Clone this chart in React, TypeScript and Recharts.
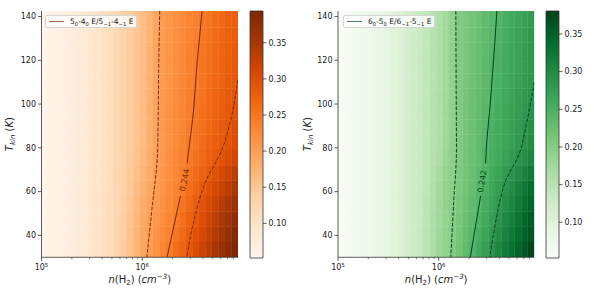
import React from 'react';
import {
  ComposedChart,
  XAxis,
  YAxis,
  Line,
  Scatter,
  ReferenceArea,
  Legend,
  Label
} from 'recharts';

const FONT = '"DejaVu Sans", sans-serif';
const INK = '#222';
const SPINE = '#333';

// grid cell edges: n(H2) in cm^-3 and Tkin in K
const densityEdges = [
  1.0e5, 1.16e5, 1.35e5, 1.57e5, 1.82e5, 2.11e5, 2.45e5, 2.85e5, 3.31e5, 3.85e5,
  4.47e5, 5.19e5, 6.03e5, 7.0e5, 8.13e5, 9.44e5, 1.1e6, 1.27e6, 1.48e6, 1.72e6,
  2.0e6, 2.32e6, 2.69e6, 3.13e6, 3.63e6, 4.22e6, 4.9e6, 5.69e6, 6.61e6, 7.67e6, 8.91e6
];
const tkinEdges = [30, 37, 44, 51, 58, 65, 72, 79, 86, 93, 100, 107, 114, 121, 128, 135, 142.5];

const densityTicks = [1e5, 2e5, 3e5, 4e5, 5e5, 6e5, 7e5, 8e5, 9e5, 1e6, 2e6, 3e6, 4e6, 5e6, 6e6, 7e6, 8e6];
const tkinTicks = [40, 60, 80, 100, 120, 140];
const cbarTicks = [0.1, 0.15, 0.2, 0.25, 0.3, 0.35];

// line ratio 5_0-4_0 E / 5_-1-4_-1 E, one row per Tkin cell, low to high Tkin
const ratio54 = [
  [0.053, 0.057, 0.061, 0.066, 0.071, 0.077, 0.083, 0.090, 0.097, 0.105, 0.115, 0.127, 0.140, 0.156, 0.173, 0.190, 0.203, 0.217, 0.230, 0.244, 0.259, 0.274, 0.288, 0.303, 0.318, 0.333, 0.348, 0.364, 0.379, 0.394],
  [0.053, 0.057, 0.061, 0.066, 0.071, 0.077, 0.083, 0.090, 0.097, 0.105, 0.115, 0.126, 0.138, 0.154, 0.171, 0.188, 0.201, 0.213, 0.226, 0.238, 0.252, 0.266, 0.280, 0.295, 0.310, 0.325, 0.340, 0.355, 0.369, 0.387],
  [0.053, 0.057, 0.061, 0.066, 0.071, 0.077, 0.083, 0.090, 0.097, 0.105, 0.114, 0.125, 0.137, 0.151, 0.168, 0.186, 0.198, 0.210, 0.221, 0.233, 0.245, 0.259, 0.273, 0.288, 0.302, 0.316, 0.331, 0.346, 0.360, 0.376],
  [0.053, 0.057, 0.061, 0.066, 0.071, 0.077, 0.083, 0.090, 0.097, 0.105, 0.114, 0.124, 0.135, 0.149, 0.165, 0.182, 0.195, 0.207, 0.217, 0.228, 0.239, 0.252, 0.265, 0.280, 0.293, 0.307, 0.321, 0.335, 0.348, 0.363],
  [0.053, 0.057, 0.061, 0.066, 0.071, 0.077, 0.083, 0.090, 0.097, 0.105, 0.113, 0.123, 0.134, 0.146, 0.160, 0.175, 0.190, 0.204, 0.214, 0.224, 0.234, 0.245, 0.258, 0.271, 0.283, 0.296, 0.309, 0.322, 0.334, 0.348],
  [0.053, 0.057, 0.061, 0.066, 0.071, 0.077, 0.083, 0.090, 0.097, 0.105, 0.113, 0.123, 0.133, 0.144, 0.156, 0.170, 0.185, 0.200, 0.211, 0.221, 0.231, 0.240, 0.252, 0.263, 0.274, 0.285, 0.297, 0.308, 0.319, 0.331],
  [0.053, 0.057, 0.061, 0.066, 0.071, 0.077, 0.083, 0.090, 0.097, 0.105, 0.113, 0.122, 0.131, 0.142, 0.153, 0.165, 0.181, 0.197, 0.208, 0.218, 0.228, 0.237, 0.247, 0.256, 0.266, 0.275, 0.284, 0.294, 0.303, 0.313],
  [0.053, 0.057, 0.061, 0.066, 0.071, 0.077, 0.083, 0.090, 0.097, 0.105, 0.113, 0.122, 0.131, 0.141, 0.151, 0.163, 0.179, 0.195, 0.207, 0.217, 0.226, 0.235, 0.244, 0.252, 0.261, 0.269, 0.277, 0.286, 0.294, 0.302],
  [0.053, 0.057, 0.061, 0.066, 0.071, 0.077, 0.083, 0.090, 0.097, 0.105, 0.113, 0.122, 0.131, 0.141, 0.151, 0.162, 0.178, 0.193, 0.207, 0.216, 0.225, 0.234, 0.243, 0.251, 0.259, 0.267, 0.274, 0.283, 0.291, 0.299],
  [0.053, 0.057, 0.061, 0.066, 0.071, 0.077, 0.083, 0.090, 0.097, 0.105, 0.113, 0.122, 0.131, 0.141, 0.151, 0.162, 0.178, 0.193, 0.207, 0.216, 0.224, 0.233, 0.241, 0.249, 0.257, 0.264, 0.272, 0.279, 0.287, 0.295],
  [0.053, 0.057, 0.061, 0.066, 0.071, 0.077, 0.083, 0.090, 0.097, 0.105, 0.113, 0.122, 0.131, 0.141, 0.151, 0.161, 0.177, 0.192, 0.206, 0.214, 0.223, 0.231, 0.240, 0.248, 0.254, 0.262, 0.269, 0.276, 0.283, 0.290],
  [0.053, 0.057, 0.061, 0.066, 0.071, 0.077, 0.083, 0.090, 0.097, 0.105, 0.113, 0.122, 0.131, 0.141, 0.151, 0.161, 0.176, 0.191, 0.205, 0.214, 0.222, 0.230, 0.238, 0.246, 0.253, 0.260, 0.267, 0.274, 0.281, 0.287],
  [0.053, 0.057, 0.061, 0.066, 0.071, 0.077, 0.083, 0.090, 0.097, 0.105, 0.113, 0.122, 0.131, 0.141, 0.151, 0.160, 0.175, 0.190, 0.204, 0.213, 0.221, 0.229, 0.237, 0.244, 0.252, 0.259, 0.266, 0.273, 0.280, 0.286],
  [0.053, 0.057, 0.061, 0.066, 0.071, 0.077, 0.083, 0.090, 0.097, 0.105, 0.113, 0.122, 0.131, 0.141, 0.151, 0.160, 0.175, 0.190, 0.204, 0.212, 0.220, 0.228, 0.235, 0.242, 0.250, 0.257, 0.264, 0.271, 0.278, 0.284],
  [0.053, 0.057, 0.061, 0.066, 0.071, 0.077, 0.083, 0.090, 0.097, 0.105, 0.113, 0.122, 0.131, 0.141, 0.151, 0.160, 0.174, 0.189, 0.203, 0.211, 0.219, 0.226, 0.234, 0.241, 0.249, 0.255, 0.262, 0.268, 0.275, 0.281],
  [0.053, 0.057, 0.061, 0.066, 0.071, 0.077, 0.083, 0.090, 0.097, 0.105, 0.113, 0.122, 0.131, 0.141, 0.151, 0.160, 0.174, 0.189, 0.203, 0.211, 0.218, 0.225, 0.232, 0.239, 0.247, 0.253, 0.260, 0.266, 0.273, 0.279]
];

// line ratio 6_0-5_0 E / 6_-1-5_-1 E
const ratio65 = [
  [0.053, 0.057, 0.061, 0.066, 0.071, 0.077, 0.083, 0.090, 0.097, 0.105, 0.113, 0.122, 0.133, 0.147, 0.162, 0.179, 0.189, 0.203, 0.217, 0.231, 0.245, 0.260, 0.274, 0.288, 0.304, 0.318, 0.332, 0.346, 0.360, 0.378],
  [0.053, 0.057, 0.061, 0.066, 0.071, 0.077, 0.083, 0.090, 0.097, 0.105, 0.113, 0.122, 0.133, 0.146, 0.161, 0.178, 0.189, 0.201, 0.214, 0.226, 0.239, 0.252, 0.266, 0.280, 0.295, 0.309, 0.322, 0.336, 0.350, 0.364],
  [0.053, 0.057, 0.061, 0.066, 0.071, 0.077, 0.083, 0.090, 0.097, 0.105, 0.113, 0.122, 0.132, 0.145, 0.160, 0.177, 0.188, 0.200, 0.211, 0.223, 0.234, 0.246, 0.260, 0.273, 0.288, 0.302, 0.315, 0.329, 0.343, 0.357],
  [0.053, 0.057, 0.061, 0.066, 0.071, 0.077, 0.083, 0.090, 0.097, 0.105, 0.113, 0.122, 0.132, 0.144, 0.158, 0.176, 0.188, 0.199, 0.209, 0.220, 0.231, 0.241, 0.254, 0.267, 0.281, 0.294, 0.307, 0.320, 0.333, 0.347],
  [0.053, 0.057, 0.061, 0.066, 0.071, 0.077, 0.083, 0.090, 0.097, 0.105, 0.113, 0.122, 0.131, 0.143, 0.156, 0.175, 0.187, 0.198, 0.207, 0.217, 0.228, 0.238, 0.249, 0.261, 0.274, 0.286, 0.298, 0.310, 0.323, 0.335],
  [0.053, 0.057, 0.061, 0.066, 0.071, 0.077, 0.083, 0.090, 0.097, 0.105, 0.113, 0.122, 0.131, 0.142, 0.154, 0.171, 0.185, 0.196, 0.206, 0.215, 0.225, 0.235, 0.245, 0.256, 0.267, 0.278, 0.289, 0.299, 0.310, 0.321],
  [0.053, 0.057, 0.061, 0.066, 0.071, 0.077, 0.083, 0.090, 0.097, 0.105, 0.113, 0.122, 0.131, 0.141, 0.152, 0.165, 0.180, 0.193, 0.205, 0.214, 0.223, 0.232, 0.242, 0.251, 0.260, 0.269, 0.278, 0.287, 0.296, 0.305],
  [0.053, 0.057, 0.061, 0.066, 0.071, 0.077, 0.083, 0.090, 0.097, 0.105, 0.113, 0.122, 0.131, 0.141, 0.151, 0.162, 0.177, 0.192, 0.204, 0.213, 0.222, 0.231, 0.241, 0.249, 0.257, 0.264, 0.272, 0.280, 0.288, 0.296],
  [0.053, 0.057, 0.061, 0.066, 0.071, 0.077, 0.083, 0.090, 0.097, 0.105, 0.113, 0.122, 0.131, 0.141, 0.151, 0.161, 0.176, 0.191, 0.204, 0.213, 0.222, 0.231, 0.240, 0.248, 0.256, 0.263, 0.271, 0.278, 0.286, 0.293],
  [0.053, 0.057, 0.061, 0.066, 0.071, 0.077, 0.083, 0.090, 0.097, 0.105, 0.113, 0.122, 0.131, 0.141, 0.151, 0.161, 0.176, 0.191, 0.204, 0.213, 0.222, 0.230, 0.238, 0.246, 0.254, 0.261, 0.269, 0.276, 0.284, 0.290],
  [0.053, 0.057, 0.061, 0.066, 0.071, 0.077, 0.083, 0.090, 0.097, 0.105, 0.113, 0.122, 0.131, 0.141, 0.151, 0.160, 0.175, 0.190, 0.204, 0.212, 0.221, 0.229, 0.237, 0.245, 0.252, 0.259, 0.266, 0.273, 0.280, 0.287],
  [0.053, 0.057, 0.061, 0.066, 0.071, 0.077, 0.083, 0.090, 0.097, 0.105, 0.113, 0.122, 0.131, 0.141, 0.151, 0.160, 0.175, 0.190, 0.204, 0.212, 0.220, 0.228, 0.236, 0.244, 0.250, 0.257, 0.264, 0.271, 0.278, 0.284],
  [0.053, 0.057, 0.061, 0.066, 0.071, 0.077, 0.083, 0.090, 0.097, 0.105, 0.113, 0.122, 0.131, 0.141, 0.151, 0.160, 0.175, 0.190, 0.204, 0.211, 0.219, 0.227, 0.235, 0.243, 0.249, 0.256, 0.262, 0.269, 0.275, 0.282],
  [0.053, 0.057, 0.061, 0.066, 0.071, 0.077, 0.083, 0.090, 0.097, 0.105, 0.113, 0.122, 0.131, 0.141, 0.151, 0.160, 0.175, 0.190, 0.204, 0.211, 0.219, 0.226, 0.233, 0.241, 0.248, 0.254, 0.261, 0.267, 0.274, 0.280],
  [0.053, 0.057, 0.061, 0.066, 0.071, 0.077, 0.083, 0.090, 0.097, 0.105, 0.113, 0.122, 0.131, 0.141, 0.151, 0.160, 0.175, 0.190, 0.203, 0.210, 0.218, 0.225, 0.232, 0.240, 0.247, 0.253, 0.260, 0.266, 0.273, 0.279],
  [0.053, 0.057, 0.061, 0.066, 0.071, 0.077, 0.083, 0.090, 0.097, 0.105, 0.113, 0.122, 0.131, 0.141, 0.151, 0.160, 0.175, 0.190, 0.203, 0.210, 0.217, 0.223, 0.230, 0.238, 0.245, 0.251, 0.258, 0.264, 0.271, 0.277]
];

// contours (n, Tkin), top to bottom: lower dashed, best-fit solid (split round its label), upper dashed
const contour54Low = [{ n: 1.49e6, T: 142.5 }, { n: 1.46e6, T: 121 }, { n: 1.42e6, T: 79 }, { n: 1.24e6, T: 51 }, { n: 1.11e6, T: 30 }];
const contour54MidB = [{ n: 3.93e6, T: 142.5 }, { n: 3.52e6, T: 120 }, { n: 3.16e6, T: 93 }, { n: 2.89e6, T: 79 }, { n: 2.79e6, T: 73 }];
const contour54MidA = [{ n: 2.39e6, T: 58 }, { n: 1.76e6, T: 30 }];
const contour54High = [{ n: 8.91e6, T: 111 }, { n: 8.69e6, T: 108 }, { n: 7.57e6, T: 93 }, { n: 6.15e6, T: 79 }, { n: 4.2e6, T: 64 }, { n: 3.34e6, T: 49 }, { n: 2.76e6, T: 30 }];
const label54 = [{ n: 2.64e6, T: 65.3, text: '0.244' }];

const contour65Low = [{ n: 1.48e6, T: 142.5 }, { n: 1.49e6, T: 110 }, { n: 1.5e6, T: 79 }, { n: 1.41e6, T: 55 }, { n: 1.32e6, T: 30 }];
const contour65MidB = [{ n: 3.79e6, T: 142.5 }, { n: 3.28e6, T: 102 }, { n: 2.97e6, T: 79 }, { n: 2.93e6, T: 73 }];
const contour65MidA = [{ n: 2.61e6, T: 58 }, { n: 2.06e6, T: 30 }];
const contour65High = [{ n: 8.91e6, T: 110 }, { n: 7.15e6, T: 87 }, { n: 6.52e6, T: 79 }, { n: 4.55e6, T: 64 }, { n: 3.79e6, T: 49 }, { n: 3.21e6, T: 30 }];
const label65 = [{ n: 2.71e6, T: 64.7, text: '0.242' }];

const ORANGES = ['#fff5eb', '#fee6ce', '#fdd0a2', '#fdae6b', '#fd8d3c', '#f16913', '#d94801', '#a63603', '#7f2704'];
const GREENS = ['#f7fcf5', '#e5f5e0', '#c7e9c0', '#a1d99b', '#74c476', '#41ab5d', '#238b45', '#006d2c', '#00441b'];

const hexRgb = (h: string) => [1, 3, 5].map(i => parseInt(h.slice(i, i + 2), 16));

function colorAt(stops: string[], t: number) {
  const c = Math.max(0, Math.min(1, t)) * (stops.length - 1);
  const i = Math.min(Math.floor(c), stops.length - 2);
  const f = c - i;
  const a = hexRgb(stops[i]);
  const b = hexRgb(stops[i + 1]);
  const m = a.map((v, k) => Math.round(v + (b[k] - v) * f));
  return `rgb(${m[0]},${m[1]},${m[2]})`;
}

const LogTick = (props: any) => {
  const { x, y, payload } = props;
  const e = Math.round(Math.log10(payload.value));
  const major = Math.abs(payload.value / Math.pow(10, e) - 1) < 1e-6;
  return (
    <g>
      <line x1={x} x2={x} y1={y} y2={y + (major ? 3.5 : 2)} stroke={SPINE} strokeWidth={major ? 0.8 : 0.6} />
      {major && (
        <text x={x} y={y + 13} textAnchor="middle" fontSize={8} fill={INK} fontFamily={FONT}>
          10<tspan dy={-3.5} fontSize={5.6}>{e}</tspan>
        </text>
      )}
    </g>
  );
};

interface Pt { n: number; T: number }

interface PanelProps {
  left: number;
  grid: number[][];
  stops: string[];
  vmin: number;
  vmax: number;
  dark: string;
  legendColor: string;
  legendText: React.ReactNode;
  low: Pt[];
  midA: Pt[];
  midB: Pt[];
  high: Pt[];
  label: { n: number; T: number; text: string }[];
  labelAngle: number;
  yAxisWidth: number;
  marginRight: number;
  cbarLeft: number;
  cbarWidth: number;
  cbarAxisWidth: number;
  gradId: string;
}

const Panel: React.FC<PanelProps> = (p) => {
  const dashed = '3.7 1.6';
  const labelShape = (s: any) => (
    <text
      x={s.cx}
      y={s.cy}
      transform={`rotate(${p.labelAngle} ${s.cx} ${s.cy})`}
      textAnchor="middle"
      dominantBaseline="central"
      fontSize={8}
      fill={p.dark}
      fontFamily={FONT}
    >
      {s.payload.text}
    </text>
  );
  const xDomain = [densityEdges[0], densityEdges[densityEdges.length - 1]];
  const yDomain = [tkinEdges[0], tkinEdges[tkinEdges.length - 1]];
  const contours: [Pt[], boolean][] = [[p.low, true], [p.midB, false], [p.midA, false], [p.high, true]];

  return (
    <>
      <div style={{ position: 'absolute', left: p.left, top: 0 }}>
        <ComposedChart width={245} height={299} margin={{ top: 11, right: p.marginRight, bottom: 11.7, left: 0 }}>
          {p.grid.map((row, j) =>
            row.map((v, i) => {
              const c = colorAt(p.stops, (v - p.vmin) / (p.vmax - p.vmin));
              return (
                <ReferenceArea
                  key={`c${j}-${i}`}
                  x1={densityEdges[i]}
                  x2={densityEdges[i + 1]}
                  y1={tkinEdges[j]}
                  y2={tkinEdges[j + 1]}
                  fill={c}
                  fillOpacity={1}
                  stroke={c}
                  strokeWidth={0.4}
                  ifOverflow="hidden"
                />
              );
            })
          )}
          <XAxis
            dataKey="n"
            type="number"
            scale="log"
            domain={xDomain}
            allowDataOverflow
            ticks={densityTicks}
            interval={0}
            height={30}
            tickSize={0}
            tickMargin={0}
            tickLine={false}
            tick={<LogTick />}
            axisLine={{ stroke: SPINE, strokeWidth: 0.8 }}
          >
            <Label
              content={(lp: any) => {
                const vb = lp.viewBox;
                return (
                  <text x={vb.x + vb.width / 2} y={vb.y + 26} textAnchor="middle" fontSize={10} fill={INK} fontFamily={FONT}>
                    <tspan fontStyle="italic">n</tspan>(H<tspan dy={2} fontSize={7}>2</tspan>
                    <tspan dy={-2}>) (</tspan>
                    <tspan fontStyle="italic">cm</tspan>
                    <tspan dy={-4} fontSize={7} fontStyle="italic">−3</tspan>
                    <tspan dy={4}>)</tspan>
                  </text>
                );
              }}
            />
          </XAxis>
          <XAxis
            xAxisId="top"
            orientation="top"
            type="number"
            scale="log"
            domain={xDomain}
            allowDataOverflow
            height={0}
            tick={false}
            tickLine={false}
            axisLine={{ stroke: SPINE, strokeWidth: 0.8 }}
          />
          <YAxis
            dataKey="T"
            type="number"
            domain={yDomain}
            allowDataOverflow
            ticks={tkinTicks}
            interval={0}
            width={p.yAxisWidth}
            tickSize={3.5}
            tickMargin={2}
            tick={{ fontSize: 8, fill: INK, fontFamily: FONT }}
            tickLine={{ stroke: SPINE, strokeWidth: 0.8 }}
            axisLine={{ stroke: SPINE, strokeWidth: 0.8 }}
          >
            <Label
              content={(lp: any) => {
                const vb = lp.viewBox;
                const x = vb.x + 13.5;
                const y = vb.y + vb.height / 2;
                return (
                  <text x={x} y={y} transform={`rotate(-90 ${x} ${y})`} textAnchor="middle" fontSize={10} fill={INK} fontFamily={FONT}>
                    <tspan fontStyle="italic">T</tspan>
                    <tspan dy={2} fontSize={7} fontStyle="italic">kin</tspan>
                    <tspan dy={-2}> (</tspan>
                    <tspan fontStyle="italic">K</tspan>)
                  </text>
                );
              }}
            />
          </YAxis>
          <YAxis
            yAxisId="right"
            orientation="right"
            type="number"
            domain={yDomain}
            allowDataOverflow
            width={0}
            tick={false}
            tickLine={false}
            axisLine={{ stroke: SPINE, strokeWidth: 0.8 }}
          />
          {contours.map(([pts, isDashed], k) => (
            <Line
              key={`contour-${k}`}
              data={pts}
              dataKey="T"
              type="monotoneY"
              stroke={p.dark}
              strokeWidth={1}
              strokeDasharray={isDashed ? dashed : undefined}
              dot={false}
              isAnimationActive={false}
            />
          ))}
          <Scatter data={p.label} dataKey="T" shape={labelShape} isAnimationActive={false} />
          <Legend
            layout="vertical"
            align="center"
            verticalAlign="middle"
            wrapperStyle={{ left: 45, top: 15, width: 'auto', height: 'auto' }}
            content={() => (
              <div
                style={{
                  display: 'flex',
                  alignItems: 'center',
                  height: 13,
                  boxSizing: 'border-box',
                  padding: '0 3px',
                  background: 'rgba(255,255,255,0.8)',
                  border: '0.8px solid #d6d6d6',
                  borderRadius: 2,
                  fontFamily: FONT,
                  fontSize: 7.5,
                  color: INK,
                  whiteSpace: 'nowrap',
                  lineHeight: '13px'
                }}
              >
                <span style={{ display: 'inline-block', width: 15, borderTop: `1.8px solid ${p.legendColor}`, marginRight: 6 }} />
                <span>{p.legendText}</span>
              </div>
            )}
          />
        </ComposedChart>
      </div>
      <div style={{ position: 'absolute', left: p.cbarLeft, top: 0 }}>
        <ComposedChart
          width={p.cbarWidth}
          height={299}
          margin={{ top: 11, right: 0, bottom: 41, left: 5 }}
          data={[{ x: 0 }, { x: 1 }]}
        >
          <defs>
            <linearGradient id={p.gradId} x1="0" y1="1" x2="0" y2="0">
              {p.stops.map((c, i) => (
                <stop key={c} offset={i / (p.stops.length - 1)} stopColor={c} />
              ))}
            </linearGradient>
          </defs>
          <XAxis dataKey="x" type="number" domain={[0, 1]} hide />
          <YAxis
            orientation="right"
            type="number"
            domain={[p.vmin, p.vmax]}
            allowDataOverflow
            ticks={cbarTicks}
            interval={0}
            width={p.cbarAxisWidth}
            tickSize={3.5}
            tickMargin={2}
            tickFormatter={(v: number) => v.toFixed(2)}
            tick={{ fontSize: 8, fill: INK, fontFamily: FONT }}
            tickLine={{ stroke: SPINE, strokeWidth: 0.8 }}
            axisLine={false}
          />
          <ReferenceArea
            x1={0}
            x2={1}
            y1={p.vmin}
            y2={p.vmax}
            fill={`url(#${p.gradId})`}
            fillOpacity={1}
            stroke={SPINE}
            strokeWidth={0.8}
          />
        </ComposedChart>
      </div>
    </>
  );
};

const sub = (t: string) => <sub style={{ fontSize: '70%', verticalAlign: '-1.5px', lineHeight: 0 }}>{t}</sub>;

export default function App() {
  return (
    <div style={{ position: 'absolute', left: 0, top: 0, width: 598, height: 299, background: '#fff' }}>
      <Panel
        left={0}
        grid={ratio54}
        stops={ORANGES}
        vmin={0.052}
        vmax={0.394}
        dark="#7f2704"
        legendColor="rgba(127,39,4,0.7)"
        legendText={<>5{sub('0')}-4{sub('0')} E/5{sub('−1')}-4{sub('−1')} E</>}
        low={contour54Low}
        midA={contour54MidA}
        midB={contour54MidB}
        high={contour54High}
        label={label54}
        labelAngle={-79}
        yAxisWidth={41.5}
        marginRight={7}
        cbarLeft={245}
        cbarWidth={55}
        cbarAxisWidth={37}
        gradId="cbOranges"
      />
      <Panel
        left={298}
        grid={ratio65}
        stops={GREENS}
        vmin={0.0526}
        vmax={0.3805}
        dark="#00441b"
        legendColor="rgba(0,68,27,0.7)"
        legendText={<>6{sub('0')}-5{sub('0')} E/6{sub('−1')}-5{sub('−1')} E</>}
        low={contour65Low}
        midA={contour65MidA}
        midB={contour65MidB}
        high={contour65High}
        label={label65}
        labelAngle={-80}
        yAxisWidth={40}
        marginRight={8.7}
        cbarLeft={541}
        cbarWidth={57}
        cbarAxisWidth={39}
        gradId="cbGreens"
      />
    </div>
  );
}
